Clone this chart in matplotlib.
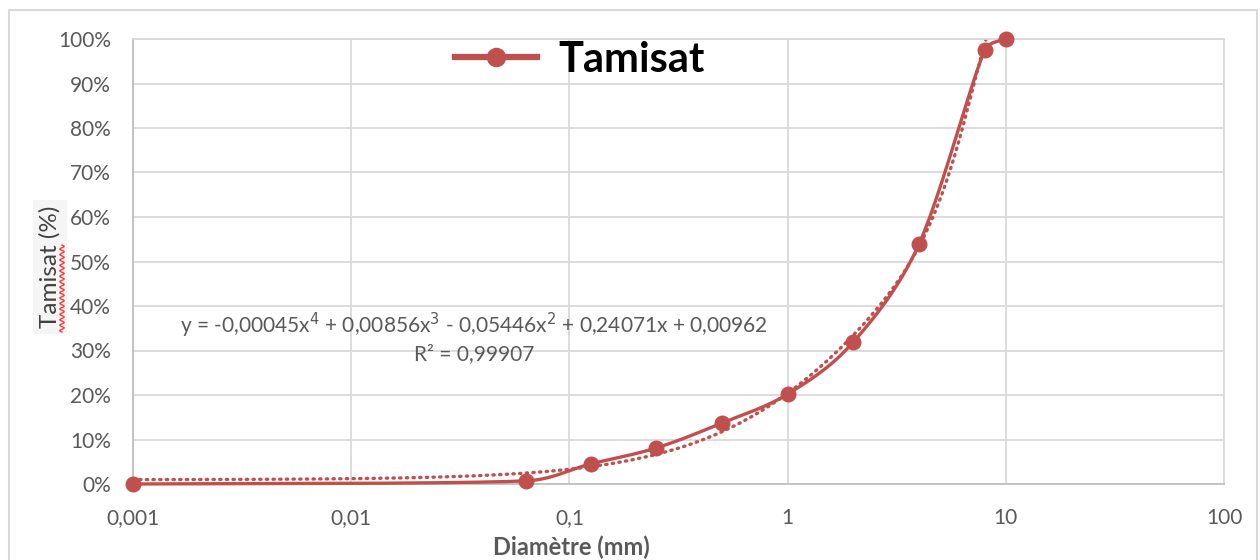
import numpy as np
import matplotlib.pyplot as plt
from matplotlib.patches import Rectangle

# Granulométrie : diamètre des tamis (mm) et tamisat cumulé (fraction)
diametres = [0.001, 0.063, 0.125, 0.25, 0.5, 1, 2, 4, 8, 10]
tamisat = [0.0, 0.007, 0.045, 0.081, 0.137, 0.202, 0.319, 0.539, 0.975, 1.0]

# Courbe de tendance polynomiale (ordre 4) affichée par le tableur
coef_tendance = [-0.00045, 0.00856, -0.05446, 0.24071, 0.00962]
texte_tendance = "y = -0,00045x$^4$ + 0,00856x$^3$ - 0,05446x$^2$ + 0,24071x + 0,00962\nR² = 0,99907"

x_ticks = [0.001, 0.01, 0.1, 1, 10, 100]
x_labels = ["0,001", "0,01", "0,1", "1", "10", "100"]
y_ticks = np.arange(0, 1.01, 0.1)

ROUGE = "#C0504D"
GRIS_TEXTE = "#595959"
GRIS_GRILLE = "#D9D9D9"

plt.rcParams["font.family"] = ["Lato", "DejaVu Sans"]


def lissage(xs, ys, largeur, hauteur, n=40):
    # lissage type tableur : Bézier dans l'espace affiché, poignées bornées
    u = (np.log10(xs) + 3) / 5 * largeur
    v = np.asarray(ys) * hauteur
    pts = np.column_stack([u, v])

    def poignee(p_prev, p_next, seg):
        d = p_next - p_prev
        nd = np.linalg.norm(d)
        if nd == 0:
            return np.zeros(2)
        return d / nd * min(nd / 6, 0.4 * seg)

    out = []
    for i in range(len(pts) - 1):
        p0 = pts[max(i - 1, 0)]
        p1 = pts[i]
        p2 = pts[i + 1]
        p3 = pts[min(i + 2, len(pts) - 1)]
        seg = np.linalg.norm(p2 - p1)
        c1 = p1 + poignee(p0, p2, seg)
        c2 = p2 - poignee(p1, p3, seg)
        t = np.linspace(0, 1, n)[:, None]
        b = ((1 - t) ** 3) * p1 + 3 * ((1 - t) ** 2) * t * c1 + 3 * (1 - t) * t ** 2 * c2 + t ** 3 * p2
        out.append(b if i == 0 else b[1:])
    out = np.vstack(out)
    return 10 ** (out[:, 0] / largeur * 5 - 3), out[:, 1] / hauteur


fig = plt.figure(figsize=(12.6, 5.6), dpi=100)
fig.patches.append(Rectangle((9 / 1260, -0.01), 1248 / 1260, 1 - 10 / 560 + 0.01,
                             transform=fig.transFigure, fill=False,
                             edgecolor=GRIS_GRILLE, linewidth=1.5))

ax = fig.add_axes([133 / 1260, 1 - 484 / 560, 1091 / 1260, 445 / 560])
ax.set_xscale("log")
ax.set_xlim(0.001, 100)
ax.set_ylim(0, 1)

xs, ys = lissage(diametres, tamisat, 1091, 445)
ax.plot(xs, ys, color=ROUGE, linewidth=2.4, solid_capstyle="round", zorder=3, clip_on=False)
ax.plot(diametres, tamisat, "o", color=ROUGE, markersize=10.5, zorder=4, clip_on=False)

# la tendance est coupée au bord de la zone de traçage, comme dans le tableur
xt = np.logspace(-3, 1, 400)
ax.plot(xt, np.polyval(coef_tendance, xt), color=ROUGE, linewidth=2.4,
        linestyle=(0, (0.4, 1.6)), dash_capstyle="round", zorder=2)

ax.set_xticks(x_ticks)
ax.set_xticklabels(x_labels)
ax.xaxis.set_minor_locator(plt.NullLocator())
ax.set_yticks(y_ticks)
ax.set_yticklabels([f"{int(round(v * 100))}%" for v in y_ticks])
ax.tick_params(length=0, labelsize=15, colors=GRIS_TEXTE)
ax.tick_params(axis="y", pad=16)
ax.tick_params(axis="x", pad=17)
ax.grid(True, color=GRIS_GRILLE, linewidth=1.3)
ax.set_axisbelow(True)
for side, sp in ax.spines.items():
    sp.set_color(GRIS_GRILLE if side in ("top", "right") else "#BFBFBF")
    sp.set_linewidth(1.3)

ax.text(474 / 1260, 1 - 337 / 560, texte_tendance, transform=fig.transFigure, ha="center",
        va="center", fontsize=15, color=GRIS_TEXTE, linespacing=1.25)

fig.text(571 / 1260, 1 - 547 / 560, "Diamètre (mm)", ha="center", va="center",
         fontsize=17, color=GRIS_TEXTE, fontweight="bold")
fig.text(50 / 1260, 1 - 267 / 560, "Tamisat (%)", ha="center", va="center",
         rotation=90, fontsize=17.5, color="#404040", zorder=3,
         bbox=dict(boxstyle="square,pad=0.25", facecolor="#F5F5F5", edgecolor="none"))

# soulignement ondulé du correcteur orthographique
t_onde = np.linspace(0, 1, 200)
fig.add_artist(plt.Line2D(62 / 1260 + 2.2 / 1260 * np.sin(t_onde * 2 * np.pi * 16),
                          1 - (245 + 87 * t_onde) / 560, color="#FF3B3B", linewidth=1.0,
                          zorder=6))

leg = ax.legend([plt.Line2D([], [], color=ROUGE, linewidth=4.5, marker="o", markersize=13)],
                ["Tamisat"], loc="center left", bbox_to_anchor=(455 / 1260, 1 - 60 / 560),
                bbox_transform=fig.transFigure, frameon=False, borderpad=0, borderaxespad=0,
                prop={"size": 30, "weight": "bold"}, handlelength=1.97, handletextpad=0.5)

fig.savefig("out.png", dpi=100)
